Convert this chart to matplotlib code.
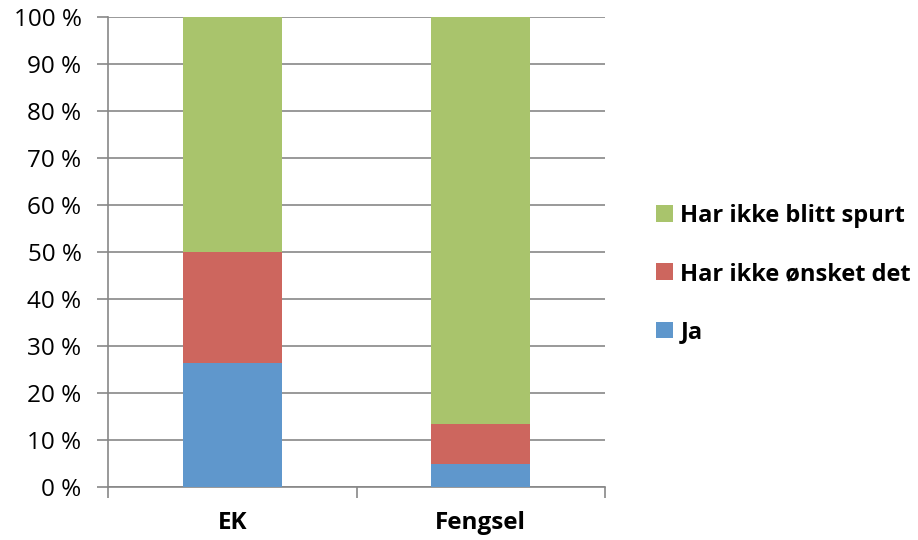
import matplotlib
matplotlib.use("Agg")
import matplotlib.pyplot as plt
from matplotlib.patches import Patch
import numpy as np

categories = ["EK", "Fengsel"]
ja = [26.3, 5.0]
onsket = [23.7, 8.3]
spurt = [50.0, 86.7]
series_names = ["Ja", "Har ikke ønsket det", "Har ikke blitt spurt"]
colors = ["#5F97CC", "#CD665E", "#A9C46C"]
yticks = [0, 10, 20, 30, 40, 50, 60, 70, 80, 90, 100]

plt.rcParams['font.family'] = ['Open Sans', 'DejaVu Sans']

W, H = 918, 540
fig = plt.figure(figsize=(W / 100, H / 100), dpi=100)
ax = fig.add_axes([108 / W, (H - 487) / H, 497 / W, 470 / H])

x = np.arange(len(categories))
bw = 0.4
bottom = np.zeros(len(categories))
handles = []
for vals, name, c in zip([ja, onsket, spurt], series_names, colors):
    ax.bar(x, vals, bw, bottom=bottom, color=c, zorder=3, linewidth=0)
    bottom += np.array(vals)
    handles.append(Patch(facecolor=c, label=name))

ax.set_xlim(-0.5, len(categories) - 0.5)
ax.set_ylim(0, 100)
ax.set_yticks(yticks)
ax.set_yticklabels([f"{v} %" for v in yticks], fontsize=17.5)
ax.yaxis.grid(True, color="#878787", linewidth=1.2, zorder=0)
ax.tick_params(axis='y', length=8, color="#878787", width=1.2, pad=11)

ax.set_xticks(x)
ax.set_xticklabels(categories, fontsize=17.5, fontweight='bold')
ax.set_xticks(np.arange(-0.5, len(categories)), minor=True)
ax.tick_params(axis='x', which='major', length=0, pad=17)
ax.tick_params(axis='x', which='minor', length=8, color="#878787", width=1.2)

for s in ["top", "right"]:
    ax.spines[s].set_visible(False)
for s in ["left", "bottom"]:
    ax.spines[s].set_color("#878787")
    ax.spines[s].set_linewidth(1.2)

fig.legend(handles=handles[::-1], loc="center left",
           bbox_to_anchor=(635 / W, 1 - 274 / H), frameon=False,
           prop={'size': 17, 'weight': 'bold'}, handlelength=0.72,
           handleheight=0.72, handletextpad=0.3, labelspacing=1.45)

fig.savefig("out.png", dpi=100)
